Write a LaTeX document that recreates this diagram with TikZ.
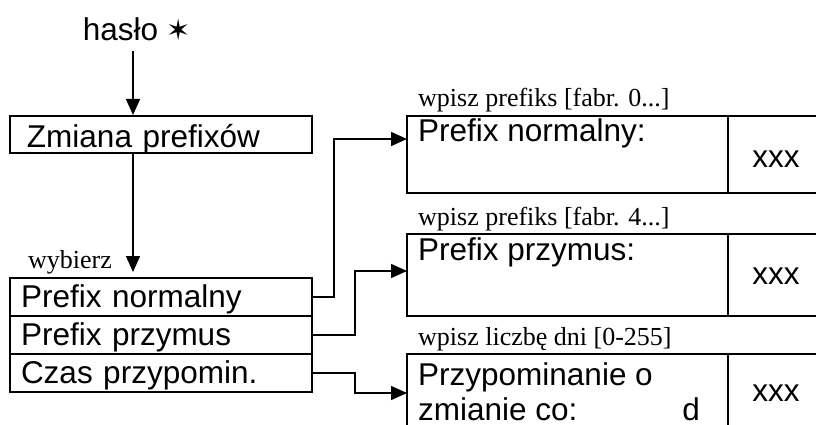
\documentclass[tikz,border=0pt]{standalone}
\usepackage{fontspec}
\setmainfont{Liberation Serif}
\setsansfont{Liberation Sans}
\newfontfamily\starfont{DejaVu Sans}
\usetikzlibrary{arrows.meta, positioning}

\begin{document}
\begin{tikzpicture}[x=1pt, y=-1pt,
        sans/.style={font=\sffamily\fontsize{31.5}{36}\selectfont},
        hint/.style={font=\rmfamily\fontsize{26}{30}\selectfont, inner sep=0pt, anchor=base west},
        menu/.style={draw, line width=2pt, sans, text width=280pt, inner xsep=11pt,
            minimum height=38pt, text height=24pt, text depth=4pt, align=left},
        screen/.style={draw, line width=2pt, outer sep=0pt, minimum width=321pt, anchor=north west},
        valbox/.style={draw, line width=2pt, outer sep=0pt, minimum width=110pt, anchor=north west},
        conn/.style={line width=1.5pt},
        arr/.style={conn, -{Triangle[length=16pt, width=14pt]}}]
        \useasboundingbox (0,0) rectangle (816,425);
        \fill[white] (0,0) rectangle (816,425);
        \clip (0,0) rectangle (816,425);

        % Start
        \node[sans, inner xsep=0pt, inner ysep=10pt] (haslo) at (137,29) {hasło {\starfont\fontsize{29}{34}\selectfont ✶}};
        \node[menu, text width=268pt, inner xsep=17pt, minimum height=37pt,
            text height=27pt, text depth=2pt] (zm) at (161,134.5) {Zmiana prefixów};

        % Menu list
        \node[hint] (wyb) at (28,268) {wybierz};
        \node[menu] (l1) at (161,297) {Prefix normalny};
        \node[menu] (l2) at (161,335) {Prefix przymus};
        \node[menu] (l3) at (161,373) {Czas przypomin.};

        % Screens
        \foreach \n/\y/\h/\hint in {pn/116/77/{wpisz prefiks [fabr. 0...]},
                pp/234/82/{wpisz prefiks [fabr. 4...]},
                cz/354/110/{wpisz liczbę dni [0-255]}} {
            \node[screen, minimum height=\h pt] (\n) at (407,\y) {};
            \node[valbox, minimum height=\h pt] (\n-v) at (\n.north east) {};
            \node[hint] (\n-h) at ([xshift=11pt, yshift=9pt]\n.north west) {\hint};
        }
        \node[sans, inner sep=0pt, anchor=base west] (pn-t) at (418,142) {Prefix normalny:};
        \node[sans, inner sep=0pt, anchor=base west] (pp-t) at (418,260) {Prefix przymus:};
        \node[sans, inner sep=0pt, anchor=base west] (cz-t1) at (418,385) {Przypominanie o};
        \node[sans, inner sep=0pt, anchor=base west] (cz-t2) at (418,420) {zmianie co:};
        \node[sans, inner sep=0pt, anchor=base east] (cz-d) at (700,420) {d};
        \foreach \n/\y in {pn/167, pp/284, cz/401} {
            \node[sans, inner sep=0pt, anchor=base] (\n-x) at (776,\y) {xxx};
        }

        % Arrows
        \coordinate (ax) at (133,0);
        \coordinate (a2) at (133,272);
        \draw[arr] (haslo.south -| ax) -- (zm.north -| ax);
        \draw[arr] (zm.south -| a2) -- (a2);
        \draw[arr] (l1.east) -- ++(21,0) |- ([yshift=-23pt]pn.north west);
        \draw[arr] (l2.east) -- ++(42,0) |- ([yshift=-37pt]pp.north west);
        \draw[arr] (l3.east) -- ++(42,0) |- ([yshift=-39pt]cz.north west);
    \end{tikzpicture}
\end{document}
